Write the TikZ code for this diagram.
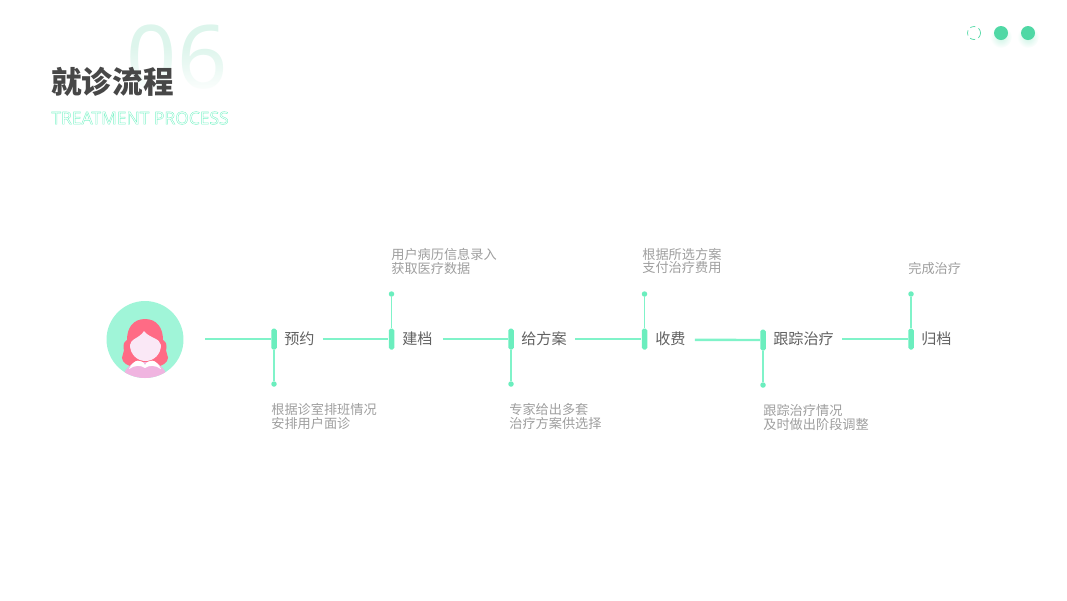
\documentclass[tikz,border=0pt]{standalone}
\usepackage{fontspec}
\usepackage{xcolor}
\usetikzlibrary{fadings}
\setmainfont{Noto Sans}
\newfontfamily\cjk{Noto Sans CJK SC}

\definecolor{linegreen}{HTML}{80F3C9}
\definecolor{tickgreen}{HTML}{6BEEBE}
\definecolor{dotgreen}{HTML}{50D8A5}
\definecolor{numgreen}{HTML}{DDF5EC}
\definecolor{avatarbg}{HTML}{A0F5D8}
\definecolor{hairred}{HTML}{FF6B85}
\definecolor{facepink}{HTML}{FAE8F6}
\definecolor{bodypink}{HTML}{F0B4E0}

\tikzset{
    tick/.style={draw=none,fill=tickgreen,rounded corners=1pt,minimum width=0.11cm,minimum height=0.42cm,inner sep=0pt},
    stemdot/.style={circle,fill=tickgreen,minimum size=0.11cm,inner sep=0pt},
    steplabel/.style={font=\cjk\fontsize{8.6}{10}\selectfont,text=black!62,inner sep=0pt,anchor=west},
    desclabel/.style={font=\cjk\fontsize{7.5}{7.5}\selectfont,text=black!38,inner sep=0pt,anchor=west,align=left},
    flow/.style={linegreen,line width=1.35pt},
    stem/.style={linegreen,line width=0.85pt}
}

\begin{document}
\begin{tikzpicture}[x=0.02cm,y=-0.02cm]
    \useasboundingbox (0,0) rectangle (1067,600);

    % Header
    \node[inner sep=0pt,text=numgreen,font=\fontsize{50}{50}\selectfont] (bignum) at (177,57) {06};
    \fill[white,path fading=north] (120,45) rectangle (235,95);
    \node[inner sep=0pt,anchor=west,text=black!72,font=\cjk\bfseries\fontsize{17.4}{18}\selectfont] (title) at (51,82) {就诊流程};
    \node[inner sep=0pt,anchor=west,text=linegreen,font=\fontsize{9.9}{12}\selectfont] (subtitle) at (51,118) {\special{pdf:code 1 Tr 0.25 w}TREATMENT PROCESS\special{pdf:code 0 Tr}};

    % Page dots
    \shade[inner color=dotgreen!30,outer color=white] (1001,37) circle (11);
    \shade[inner color=dotgreen!30,outer color=white] (1028,37) circle (11);
    \node[circle,draw=dotgreen,densely dashed,line width=0.4pt,minimum size=0.26cm,inner sep=0pt] (dotA) at (974,33) {};
    \node[circle,fill=dotgreen,minimum size=0.28cm,inner sep=0pt] (dotB) at (1001,33) {};
    \node[circle,fill=dotgreen,minimum size=0.28cm,inner sep=0pt] (dotC) at (1028,33) {};

    % Avatar
    \node[circle,fill=avatarbg,minimum size=1.54cm,inner sep=0pt] (avatar) at (145,339.5) {};
    \begin{scope}
        \clip (145,339.5) circle (38.5);
        \fill[hairred] (145,319) .. controls (133,319) and (127,328) .. (127,340) .. controls (120,345) and (126,349) .. (123,354) .. controls (120,359) and (124,364) .. (130,366) -- (160,366) .. controls (166,364) and (170,359) .. (167,354) .. controls (164,349) and (170,345) .. (163,340) .. controls (163,328) and (157,319) .. (145,319) -- cycle;
        \fill[bodypink] (122,378) .. controls (125,369) and (130,364) .. (136,362) -- (154,362) .. controls (160,364) and (165,369) .. (168,378) -- cycle;
        \fill[facepink] (130,345) .. controls (130,339) and (140,338) .. (144,331) .. controls (149,338) and (160,338) .. (161,345) .. controls (161,354) and (154,361) .. (145.5,361) .. controls (137,361) and (130,354) .. (130,345) -- cycle;
        \fill[white] (129,369) .. controls (134,358) and (142,359) .. (145,365) .. controls (148,359) and (156,358) .. (161,369) .. controls (155,365) and (149,365) .. (145,368) .. controls (141,365) and (135,365) .. (129,369) -- cycle;
    \end{scope}

    % Ticks
    \node[tick] (tickA) at (274,339) {};
    \node[tick] (tickB) at (391.5,339) {};
    \node[tick] (tickC) at (511,339) {};
    \node[tick] (tickD) at (644.5,339) {};
    \node[tick] (tickE) at (763,340) {};
    \node[tick] (tickF) at (911,339) {};

    % Step names
    \node[steplabel] (stepA) at (284,339) {预约};
    \node[steplabel] (stepB) at (402,339) {建档};
    \node[steplabel] (stepC) at (521,339) {给方案};
    \node[steplabel] (stepD) at (655,339) {收费};
    \node[steplabel] (stepE) at (773,339) {跟踪治疗};
    \node[steplabel] (stepF) at (921,339) {归档};

    % Flow line
    \coordinate (start) at (205,339);
    \draw[flow] (start) -- (tickA);
    \draw[flow] (stepA.east) ++(8,0) -- (tickB);
    \draw[flow] (stepB.east) ++(10,0) -- (tickC);
    \draw[flow] (stepC.east) ++(8,0) -- (tickD);
    \draw[flow] (stepD.east) ++(9,0.8) -- (tickE);
    \draw[flow] (stepE.east) ++(8,0) -- (tickF);

    % Stems
    \node[stemdot] (endA) at (274,384) {};
    \node[stemdot] (endB) at (391.5,294) {};
    \node[stemdot] (endC) at (511,384) {};
    \node[stemdot] (endD) at (644.5,294) {};
    \node[stemdot] (endE) at (763,385) {};
    \node[stemdot] (endF) at (911,294) {};
    \draw[stem] (tickA) -- (endA);
    \draw[stem] (tickB) -- (endB);
    \draw[stem] (tickC) -- (endC);
    \draw[stem] (tickD) -- (endD);
    \draw[stem] (tickE) -- (endE);
    \draw[stem] (tickF) -- (endF);

    % Descriptions
    \node[desclabel] (descA) at (271,416.5) {根据诊室排班情况\\安排用户面诊};
    \node[desclabel] (descB) at (391,261.5) {用户病历信息录入\\获取医疗数据};
    \node[desclabel] (descC) at (509,416.5) {专家给出多套\\治疗方案供选择};
    \node[desclabel] (descD) at (642,261) {根据所选方案\\支付治疗费用};
    \node[desclabel] (descE) at (763,417.5) {跟踪治疗情况\\及时做出阶段调整};
    \node[desclabel] (descF) at (908,268) {完成治疗};
\end{tikzpicture}
\end{document}
